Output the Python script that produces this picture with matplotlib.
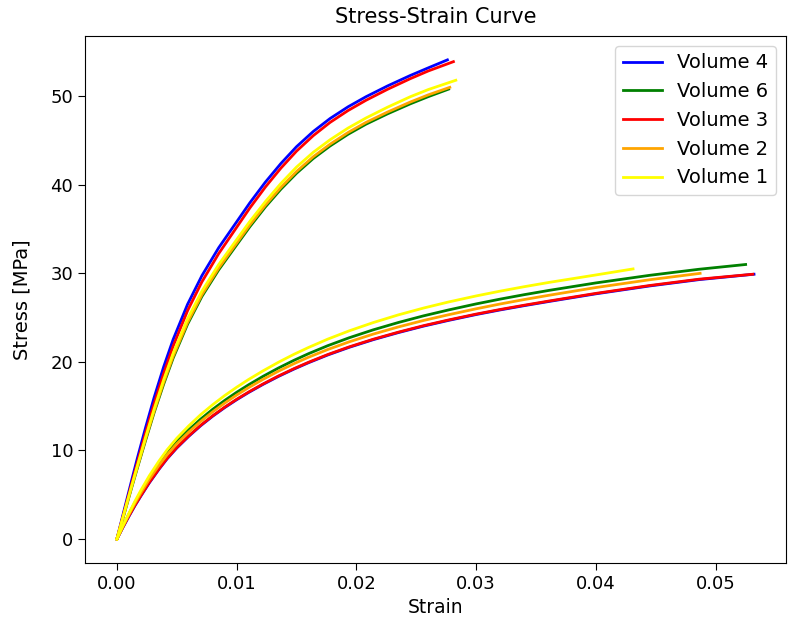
import matplotlib
matplotlib.use("Agg")
import matplotlib.pyplot as plt

# Stiff loading branch: strain grid and stress [MPa] per volume
upper_strain = [0.0, 0.0006, 0.0012, 0.0017, 0.0024, 0.0031, 0.0039, 0.0047, 0.0059, 0.0071,
                0.0085, 0.0099, 0.0111, 0.0124, 0.0137, 0.0150, 0.0164, 0.0178, 0.0193,
                0.0208, 0.0226, 0.0245, 0.0260]
upper_v4 = [0.0, 3.24, 6.45, 9.08, 12.61, 15.94, 19.42, 22.54, 26.5, 29.74, 32.89, 35.62,
            37.96, 40.3, 42.41, 44.3, 46.02, 47.48, 48.8, 49.94, 51.16, 52.34, 53.2]
upper_v3 = [0.0, 3.04, 6.1, 8.58, 12.01, 15.24, 18.67, 21.79, 25.78, 29.04, 32.23, 35.0,
            37.38, 39.75, 41.89, 43.8, 45.55, 47.04, 48.38, 49.54, 50.78, 51.98, 52.85]
upper_v1 = [0.0, 2.94, 5.85, 8.23, 11.51, 14.64, 17.97, 20.99, 24.85, 27.99, 30.99, 33.62,
            35.86, 38.1, 40.16, 42.0, 43.67, 45.08, 46.4, 47.54, 48.76, 49.94, 50.75]
upper_v2 = [0.0, 2.84, 5.75, 8.08, 11.31, 14.39, 17.67, 20.64, 24.45, 27.59, 30.59, 33.22,
            35.46, 37.7, 39.71, 41.5, 43.17, 44.58, 45.9, 47.04, 48.21, 49.34, 50.15]
upper_v6 = [0.0, 2.79, 5.65, 7.98, 11.16, 14.24, 17.47, 20.44, 24.25, 27.39, 30.39, 33.02,
            35.26, 37.5, 39.51, 41.3, 42.97, 44.38, 45.7, 46.84, 48.01, 49.14, 49.95]
upper_end = {"v4": (0.0276, 54.1), "v3": (0.0281, 53.9), "v1": (0.0283, 51.8),
             "v2": (0.0278, 51.0), "v6": (0.0277, 50.8)}

# Compliant branch: strain grid and stress [MPa] per volume
lower_strain = [0.0, 0.0005, 0.001, 0.0015, 0.002, 0.0027, 0.0035, 0.0042, 0.005, 0.006,
                0.007, 0.008, 0.009, 0.010, 0.011, 0.0122, 0.0135, 0.0148, 0.016, 0.0176,
                0.0194, 0.0214, 0.0235, 0.0256, 0.0277, 0.030, 0.032, 0.034, 0.0361, 0.040,
                0.0445, 0.0486]
lower_v6 = [0.0, 1.45, 2.8, 4.1, 5.3, 6.88, 8.48, 9.74, 10.98, 12.33, 13.55, 14.65, 15.65,
            16.57, 17.42, 18.37, 19.32, 20.19, 20.93, 21.83, 22.73, 23.62, 24.45, 25.2,
            25.87, 26.55, 27.09, 27.59, 28.08, 28.92, 29.78, 30.46]
lower_v1 = [0.0, 1.5, 2.9, 4.25, 5.5, 7.13, 8.78, 10.09, 11.38, 12.78, 14.05, 15.17, 16.2,
            17.14, 18.02, 18.99, 19.97, 20.87, 21.63, 22.57, 23.51, 24.44, 25.31, 26.08,
            26.77, 27.45, 27.99, 28.49, 28.98, 29.82]
lower_v2 = [0.0, 1.42, 2.75, 4.02, 5.2, 6.74, 8.3, 9.54, 10.76, 12.08, 13.28, 14.36, 15.35,
            16.26, 17.1, 18.03, 18.96, 19.81, 20.53, 21.4, 22.27, 23.14, 23.95, 24.68,
            25.33, 26.0, 26.54, 27.04, 27.53, 28.4, 29.28]
lower_v3 = [0.0, 1.35, 2.6, 3.8, 4.9, 6.38, 7.9, 9.12, 10.33, 11.65, 12.85, 13.92, 14.89,
            15.78, 16.6, 17.51, 18.42, 19.25, 19.96, 20.83, 21.7, 22.56, 23.36, 24.09,
            24.74, 25.4, 25.92, 26.4, 26.88, 27.74, 28.63, 29.34]
lower_v4 = [0.0, 1.3, 2.55, 3.75, 4.85, 6.33, 7.85, 9.07, 10.28, 11.6, 12.8, 13.87, 14.84,
            15.73, 16.55, 17.46, 18.37, 19.2, 19.91, 20.78, 21.65, 22.51, 23.31, 24.04,
            24.69, 25.35, 25.87, 26.35, 26.83, 27.69, 28.58, 29.29]
lower_end = {"v6": (0.0525, 31.0), "v2": (0.0487, 30.0), "v3": (0.0531, 29.9),
             "v4": (0.0532, 29.9), "v1": (0.0431, 30.5)}

labels = {"v4": "Volume 4", "v6": "Volume 6", "v3": "Volume 3", "v2": "Volume 2", "v1": "Volume 1"}
colors = {"v4": "blue", "v6": "green", "v3": "red", "v2": "orange", "v1": "yellow"}
order = ["v4", "v6", "v3", "v2", "v1"]

upper = {"v4": upper_v4, "v3": upper_v3, "v1": upper_v1, "v2": upper_v2, "v6": upper_v6}
lower = {"v4": lower_v4, "v3": lower_v3, "v1": lower_v1, "v2": lower_v2, "v6": lower_v6}

fig = plt.figure(figsize=(7.91, 6.26), dpi=100)
ax = fig.add_axes([0.1075, 0.1006, 0.886, 0.842])

for key in order:
    ux = upper_strain + [upper_end[key][0]]
    uy = upper[key] + [upper_end[key][1]]
    n = len(lower[key])
    lx = lower_strain[:n] + [lower_end[key][0]]
    ly = lower[key] + [lower_end[key][1]]
    ax.plot(ux, uy, color=colors[key], lw=2, label=labels[key])
    ax.plot(lx, ly, color=colors[key], lw=2)

ax.set_title("Stress-Strain Curve", fontsize=15, pad=9)
ax.set_xlabel("Strain", fontsize=13.5)
ax.set_ylabel("Stress [MPa]", fontsize=14, labelpad=14)
ax.tick_params(labelsize=13, length=5)
ax.set_xticks([0.00, 0.01, 0.02, 0.03, 0.04, 0.05])
ax.set_xticklabels(["0.00", "0.01", "0.02", "0.03", "0.04", "0.05"])
ax.legend(loc="upper right", fontsize=14)

fig.savefig("out.png", dpi=100)
